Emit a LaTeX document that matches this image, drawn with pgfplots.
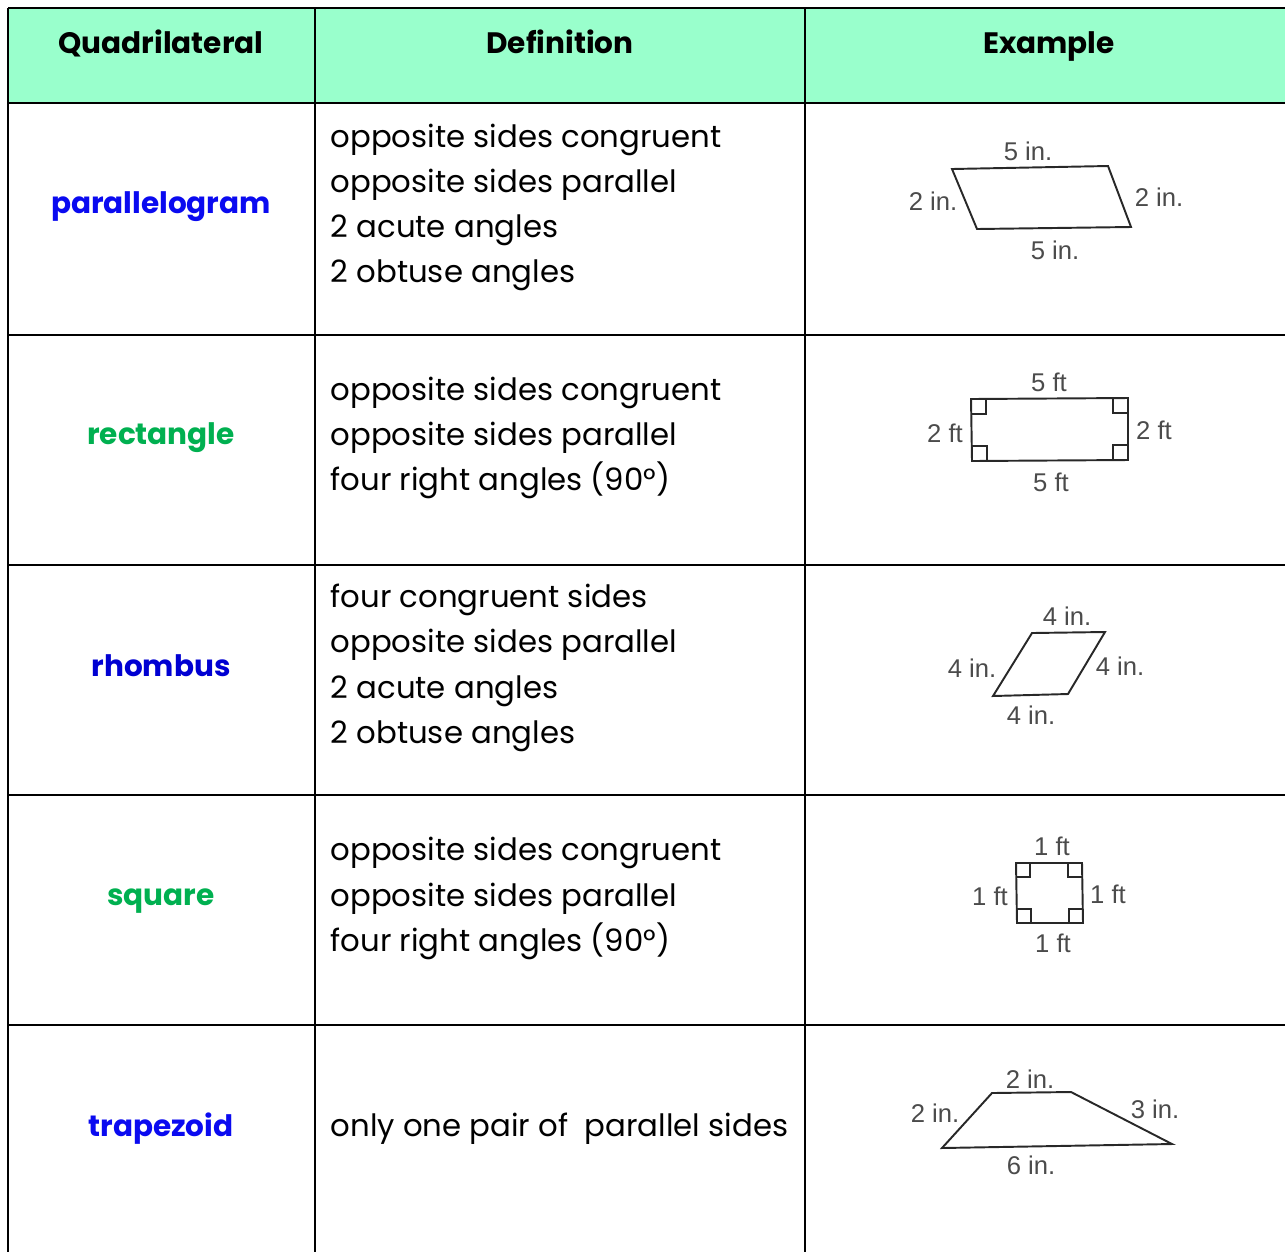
\documentclass[border=0pt]{standalone}
\usepackage{pgfplots}
\pgfplotsset{compat=1.18}
\usepackage{fontspec}
\setmainfont{Poppins}
\newfontfamily\labelfont{Liberation Sans}
\definecolor{mint}{RGB}{153,255,204}
\definecolor{qblue}{RGB}{10,10,240}
\definecolor{qdblue}{RGB}{0,0,210}
\definecolor{qgreen}{RGB}{0,176,80}
\definecolor{figgray}{RGB}{40,40,40}
\definecolor{lbl}{RGB}{75,75,75}
\tikzset{
    head/.style={font=\fontsize{8.4}{10}\selectfont\bfseries, anchor=center, text height=0.7em, text depth=0pt, inner sep=0pt},
    qname/.style={font=\fontsize{8.4}{10}\selectfont\bfseries, anchor=center, text height=0.7em, text depth=0pt, inner sep=0pt},
    def/.style={font=\fontsize{8.75}{10}\selectfont, anchor=west, text height=1.4ex, text depth=0.35ex, inner sep=0pt},
    lab/.style={font=\labelfont\fontsize{7.3}{8}\selectfont, text=lbl, anchor=center, inner sep=0pt},
    rule/.style={black, line width=0.75pt},
    fig/.style={figgray, line width=0.55pt},
}

\begin{document}
\begin{tikzpicture}
\begin{axis}[
    hide axis, scale only axis,
    width=12.85cm, height=12.52cm,
    xmin=0, xmax=1285, ymin=0, ymax=1252,
    y dir=reverse,
]
% keep the page the size of the whole axis
\addplot[draw=none] coordinates {(0,0) (1285,1252)};

% header fill
\addplot[fill=mint, draw=none] coordinates {(8,8) (1285,8) (1285,103) (8,103)} -- cycle;

% table rules
\addplot[rule] coordinates {(8,8) (1285,8)};
\addplot[rule] coordinates {(8,103) (1285,103)};
\addplot[rule] coordinates {(8,335) (1285,335)};
\addplot[rule] coordinates {(8,565) (1285,565)};
\addplot[rule] coordinates {(8,795) (1285,795)};
\addplot[rule] coordinates {(8,1025) (1285,1025)};
\addplot[rule] coordinates {(8,8) (8,1252)};
\addplot[rule] coordinates {(315,8) (315,1252)};
\addplot[rule] coordinates {(805,8) (805,1252)};

% header
\node[head] at (axis cs:161,41) {Quadrilateral};
\node[head] at (axis cs:560,41) {Definition};
\node[head] at (axis cs:1049,41) {Example};

% names
\node[qname, text=qblue] at (axis cs:161,201) {parallelogram};
\node[qname, text=qgreen] at (axis cs:161,432) {rectangle};
\node[qname, text=qdblue] at (axis cs:161,664) {rhombus};
\node[qname, text=qgreen] at (axis cs:161,893) {square};
\node[qname, text=qblue] at (axis cs:161,1124) {trapezoid};

% definitions
\node[def] at (axis cs:330,137) {opposite sides congruent};
\node[def] at (axis cs:330,182) {opposite sides parallel};
\node[def] at (axis cs:330,227) {2 acute angles};
\node[def] at (axis cs:330,272) {2 obtuse angles};

\node[def] at (axis cs:330,390) {opposite sides congruent};
\node[def] at (axis cs:330,435) {opposite sides parallel};
\node[def] at (axis cs:330,480) {four right angles (90°)};

\node[def] at (axis cs:330,597) {four congruent sides};
\node[def] at (axis cs:330,642) {opposite sides parallel};
\node[def] at (axis cs:330,688) {2 acute angles};
\node[def] at (axis cs:330,733) {2 obtuse angles};

\node[def] at (axis cs:330,850) {opposite sides congruent};
\node[def] at (axis cs:330,896) {opposite sides parallel};
\node[def] at (axis cs:330,941) {four right angles (90°)};

\node[def] at (axis cs:330,1126) {only one pair of\ \ parallel sides};

% parallelogram
\addplot[fig] coordinates {(952,169) (1108,166) (1131,227) (977,229)} -- cycle;
\node[lab] at (axis cs:1028,151) {5 in.};
\node[lab] at (axis cs:933,201) {2 in.};
\node[lab] at (axis cs:1159,197) {2 in.};
\node[lab] at (axis cs:1055,250) {5 in.};

% rectangle
\addplot[fig] coordinates {(971,399) (1128,398) (1128,460) (972,461)} -- cycle;
\addplot[fig] coordinates {(971,414) (986,414) (986,399)};
\addplot[fig] coordinates {(1113,398) (1113,413) (1128,413)};
\addplot[fig] coordinates {(1128,445) (1113,445) (1113,460)};
\addplot[fig] coordinates {(987,461) (987,446) (972,446)};
\node[lab] at (axis cs:1049,382) {5 ft};
\node[lab] at (axis cs:945,433) {2 ft};
\node[lab] at (axis cs:1154,430) {2 ft};
\node[lab] at (axis cs:1051,482) {5 ft};

% rhombus
\addplot[fig] coordinates {(1032,633) (1105,632) (1068,694) (993,696)} -- cycle;
\node[lab] at (axis cs:1067,616) {4 in.};
\node[lab] at (axis cs:972,668) {4 in.};
\node[lab] at (axis cs:1120,666) {4 in.};
\node[lab] at (axis cs:1031,715) {4 in.};

% square
\addplot[fig] coordinates {(1016,863) (1082,863) (1083,923) (1017,923)} -- cycle;
\addplot[fig] coordinates {(1016,877) (1030,877) (1030,863)};
\addplot[fig] coordinates {(1068,863) (1068,877) (1082,877)};
\addplot[fig] coordinates {(1083,909) (1069,909) (1069,923)};
\addplot[fig] coordinates {(1031,923) (1031,909) (1017,909)};
\node[lab] at (axis cs:1052,846) {1 ft};
\node[lab] at (axis cs:990,896) {1 ft};
\node[lab] at (axis cs:1108,894) {1 ft};
\node[lab] at (axis cs:1053,943) {1 ft};

% trapezoid
\addplot[fig] coordinates {(992,1093) (1071,1092) (1172,1144) (942,1148)} -- cycle;
\node[lab] at (axis cs:1030,1079) {2 in.};
\node[lab] at (axis cs:935,1113) {2 in.};
\node[lab] at (axis cs:1155,1109) {3 in.};
\node[lab] at (axis cs:1031,1165) {6 in.};
\end{axis}
\end{tikzpicture}
\end{document}
